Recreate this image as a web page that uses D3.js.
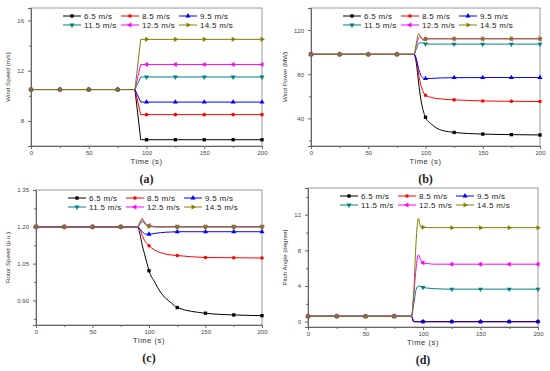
<!DOCTYPE html>
<html>
<head>
<meta charset="utf-8">
<script src="https://cdn.jsdelivr.net/npm/d3@7/dist/d3.min.js"></script>
<style>
    body { margin: 0; background: #fff; }
    svg { display: block; font-family: 'Liberation Sans', Arial, sans-serif; }
</style>
</head>
<body>
<svg id="chart" width="550" height="371"></svg>
<script>
// Series names shared by the four panels
var seriesNames = ['6.5 m/s', '8.5 m/s', '9.5 m/s', '11.5 m/s', '12.5 m/s', '14.5 m/s'];

// Time samples of panel (a) (step input)
var timeStep = [0, 25, 50, 75, 90, 95, 100, 125, 150, 175, 200];
// Time samples of panels (b), (c) and (d)
var timeResp = [0, 25, 50, 75, 90, 92, 94, 96, 98, 100, 105, 110, 115, 120, 125, 150, 175, 200];
// Times where a marker is drawn
var markerTimes = [0, 25, 50, 75, 100, 125, 150, 175, 200];

// (a) Wind speed (m/s)
var windSpeed = [
    [10.5, 10.5, 10.5, 10.5, 10.5, 6.5, 6.5, 6.5, 6.5, 6.5, 6.5],
    [10.5, 10.5, 10.5, 10.5, 10.5, 8.5, 8.5, 8.5, 8.5, 8.5, 8.5],
    [10.5, 10.5, 10.5, 10.5, 10.5, 9.5, 9.5, 9.5, 9.5, 9.5, 9.5],
    [10.5, 10.5, 10.5, 10.5, 10.5, 11.5, 11.5, 11.5, 11.5, 11.5, 11.5],
    [10.5, 10.5, 10.5, 10.5, 10.5, 12.5, 12.5, 12.5, 12.5, 12.5, 12.5],
    [10.5, 10.5, 10.5, 10.5, 10.5, 14.5, 14.5, 14.5, 14.5, 14.5, 14.5]
];

// (b) Wind power (MW)
var windPower = [
    [98, 98, 98, 98, 98, 90, 72, 57, 47, 41, 35, 31, 29, 28, 27.3, 25.8, 25.3, 25],
    [98, 98, 98, 98, 98, 93, 80, 70, 64, 61, 59, 58, 57.5, 57, 56.8, 55.8, 55.5, 55.3],
    [98, 98, 98, 98, 98, 94, 85, 79, 76.5, 76, 76.2, 76.5, 76.7, 76.8, 76.9, 77, 77, 77],
    [98, 98, 98, 98, 98, 103, 108, 108.5, 108, 107.5, 107.3, 107.3, 107.3, 107.3, 107.3, 107.3, 107.3, 107.3],
    [98, 98, 98, 98, 98, 106, 113, 114, 111, 112, 112, 112, 112, 112, 112, 112, 112, 112],
    [98, 98, 98, 98, 98, 108, 117, 113, 111, 112, 112.3, 112.3, 112.3, 112.3, 112.3, 112.3, 112.3, 112.3]
];

// (c) Rotor speed (p.u.)
var rotorSpeed = [
    [1.2, 1.2, 1.2, 1.2, 1.2, 1.17, 1.125, 1.09, 1.055, 1.021, 0.975, 0.935, 0.908, 0.889, 0.871, 0.848, 0.841, 0.838],
    [1.2, 1.2, 1.2, 1.2, 1.2, 1.19, 1.165, 1.145, 1.132, 1.123, 1.105, 1.095, 1.089, 1.085, 1.083, 1.075, 1.074, 1.073],
    [1.2, 1.2, 1.2, 1.2, 1.2, 1.19, 1.18, 1.172, 1.17, 1.17, 1.173, 1.176, 1.178, 1.179, 1.18, 1.18, 1.18, 1.18],
    [1.2, 1.2, 1.2, 1.2, 1.2, 1.21, 1.22, 1.215, 1.205, 1.203, 1.2, 1.2, 1.2, 1.2, 1.2, 1.2, 1.2, 1.2],
    [1.2, 1.2, 1.2, 1.2, 1.2, 1.215, 1.228, 1.22, 1.205, 1.205, 1.201, 1.2, 1.2, 1.2, 1.2, 1.2, 1.2, 1.2],
    [1.2, 1.2, 1.2, 1.2, 1.2, 1.22, 1.235, 1.215, 1.205, 1.203, 1.2, 1.2, 1.2, 1.2, 1.2, 1.2, 1.2, 1.2]
];

// (d) Pitch angle (degree)
var pitchAngle = [
    [0.6, 0.6, 0.6, 0.6, 0.6, 0, 0, 0, 0, 0, 0, 0, 0, 0, 0, 0, 0, 0],
    [0.6, 0.6, 0.6, 0.6, 0.6, 0, 0, 0, 0, 0, 0, 0, 0, 0, 0, 0, 0, 0],
    [0.6, 0.6, 0.6, 0.6, 0.6, 0, 0, 0, 0, 0, 0, 0, 0, 0, 0, 0, 0, 0],
    [0.6, 0.6, 0.6, 0.6, 0.6, 2.0, 3.6, 4.0, 3.95, 3.85, 3.75, 3.7, 3.67, 3.65, 3.65, 3.65, 3.65, 3.65],
    [0.6, 0.6, 0.6, 0.6, 0.6, 3.0, 6.0, 7.5, 6.9, 6.6, 6.5, 6.45, 6.45, 6.45, 6.45, 6.45, 6.45, 6.45],
    [0.6, 0.6, 0.6, 0.6, 0.6, 3.5, 9.0, 11.6, 10.6, 10.6, 10.55, 10.55, 10.55, 10.55, 10.55, 10.55, 10.55, 10.55]
];

// Tick values of the x axis
var xMajorTicks = [0, 50, 100, 150, 200];
var xMinorTicks = [25, 75, 125, 175];

// Colors and marker shapes of the series
var colors = ['#000000', '#ff0000', '#0000ff', '#008080', '#ff00ff', '#808000'];
var shapes = [
    { type: d3.symbolSquare, rotate: 0 },
    { type: d3.symbolCircle, rotate: 0 },
    { type: d3.symbolTriangle, rotate: 0 },
    { type: d3.symbolTriangle, rotate: 180 },
    { type: d3.symbolTriangle, rotate: 270 },
    { type: d3.symbolTriangle, rotate: 90 }
];

var svg = d3.select('#chart');

/* Returns the marker symbol generator of a series
*/
function markerPath(s) {
    var size = shapes[s].type === d3.symbolCircle ? 10 : 11;
    return d3.symbol().type(shapes[s].type).size(size)();
}

/* Draws one panel of the figure
   Parameters:
        box: { left, right, top, bottom } pixel extent of the plot area
        times: the x values of the series
        values: array of series values
        yDomain: domain of the y axis
        yMajor / yMinor: tick values of the y axis
        yFormat: format of the y tick labels
        yTitle: title of the y axis
        caption: the (a)..(d) caption
        curve: the d3 curve used for the lines
*/
function drawPanel(p) {
    var g = svg.append('g');

    var xScale = d3.scaleLinear().domain([0, 200]).range([p.box.left, p.box.right]);
    var yScale = d3.scaleLinear().domain(p.yDomain).range([p.box.bottom, p.box.top]);

    // Frame of the plot area
    g.append('rect')
        .attr('x', p.box.left)
        .attr('y', p.box.top)
        .attr('width', p.box.right - p.box.left)
        .attr('height', p.box.bottom - p.box.top)
        .attr('fill', 'none')
        .attr('stroke', '#9a9a9a')
        .attr('stroke-width', 1);

    // Bottom axis, major ticks with labels
    g.append('g')
        .attr('transform', 'translate(0,' + p.box.bottom + ')')
        .call(d3.axisBottom(xScale).tickValues(xMajorTicks).tickSize(3).tickPadding(2)
            .tickFormat(d3.format('d')))
        .call(styleAxis);
    // Bottom axis, minor ticks
    g.append('g')
        .attr('transform', 'translate(0,' + p.box.bottom + ')')
        .call(d3.axisBottom(xScale).tickValues(xMinorTicks).tickSize(2).tickFormat(''))
        .call(styleAxis);

    // Left axis, major ticks with labels
    g.append('g')
        .attr('transform', 'translate(' + p.box.left + ',0)')
        .call(d3.axisLeft(yScale).tickValues(p.yMajor).tickSize(3).tickPadding(4)
            .tickFormat(d3.format(p.yFormat)))
        .call(styleAxis);
    // Left axis, minor ticks
    g.append('g')
        .attr('transform', 'translate(' + p.box.left + ',0)')
        .call(d3.axisLeft(yScale).tickValues(p.yMinor).tickSize(2).tickFormat(''))
        .call(styleAxis);

    // Axis titles
    g.append('text')
        .attr('x', (p.box.left + p.box.right) / 2)
        .attr('y', p.box.bottom + 18)
        .attr('text-anchor', 'middle')
        .attr('font-size', '7.5px')
        .attr('letter-spacing', '0.6px')
        .attr('fill', '#333')
        .text('Time (s)');

    g.append('text')
        .attr('transform', 'translate(' + p.yTitleX + ',' + ((p.box.top + p.box.bottom) / 2) + ') rotate(-90)')
        .attr('text-anchor', 'middle')
        .attr('font-size', '6.2px')
        .attr('fill', '#333')
        .text(p.yTitle);

    // Caption below the panel
    g.append('text')
        .attr('x', (p.box.left + p.box.right) / 2)
        .attr('y', p.box.bottom + 37)
        .attr('text-anchor', 'middle')
        .attr('font-family', "'Liberation Serif', 'Times New Roman', serif")
        .attr('font-weight', 'bold')
        .attr('font-size', '12px')
        .attr('fill', '#222')
        .text(p.caption);

    var line = d3.line()
        .x(function(d) { return xScale(d[0]); })
        .y(function(d) { return yScale(d[1]); })
        .curve(p.curve);

    // Draw the lines and markers of each series
    p.values.forEach(function(vals, s) {
        var pts = p.times.map(function(t, i) { return [t, vals[i]]; });
        g.append('path')
            .datum(pts)
            .attr('d', line)
            .attr('fill', 'none')
            .attr('stroke', colors[s])
            .attr('stroke-width', 1);

        var marks = pts.filter(function(d) { return markerTimes.indexOf(d[0]) >= 0; });
        g.selectAll('path.m' + s)
            .data(marks)
            .enter()
            .append('path')
            .classed('m' + s, true)
            .attr('d', markerPath(s))
            .attr('transform', function(d) {
                return 'translate(' + xScale(d[0]) + ',' + yScale(d[1]) + ') rotate(' + shapes[s].rotate + ')';
            })
            .attr('fill', colors[s]);
    });

    // Legend in two rows of three
    seriesNames.forEach(function(name, s) {
        var lx = p.box.left + 32 + (s % 3) * 58,
            ly = p.box.top + 8 + Math.floor(s / 3) * 9;
        g.append('line')
            .attr('x1', lx).attr('x2', lx + 18)
            .attr('y1', ly).attr('y2', ly)
            .attr('stroke', colors[s])
            .attr('stroke-width', 1);
        g.append('path')
            .attr('d', markerPath(s))
            .attr('transform', 'translate(' + (lx + 9) + ',' + ly + ') rotate(' + shapes[s].rotate + ')')
            .attr('fill', colors[s]);
        g.append('text')
            .attr('x', lx + 21)
            .attr('y', ly + 3)
            .attr('font-size', '8px')
            .attr('letter-spacing', '0.3px')
            .attr('fill', '#222')
            .text(name);
    });
}

/* Sets the gray style of an axis
*/
function styleAxis(sel) {
    sel.select('.domain').attr('stroke', '#666');
    sel.selectAll('.tick line').attr('stroke', '#666');
    sel.selectAll('.tick text')
        .attr('font-size', '6px')
        .attr('fill', '#444')
        .attr('font-family', "'Liberation Sans', Arial, sans-serif");
}

drawPanel({
    box: { left: 31, right: 262, top: 8, bottom: 146 },
    times: timeStep, values: windSpeed, curve: d3.curveLinear,
    yDomain: [6, 17], yMajor: [8, 12, 16], yMinor: [6, 10, 14], yFormat: 'd',
    yTitle: 'Wind Speed (m/s)', yTitleX: 10, caption: '(a)'
});

drawPanel({
    box: { left: 311, right: 540, top: 8, bottom: 146 },
    times: timeResp, values: windPower, curve: d3.curveMonotoneX,
    yDomain: [15, 140], yMajor: [40, 80, 120], yMinor: [20, 60, 100, 140], yFormat: 'd',
    yTitle: 'Wind Power (MW)', yTitleX: 287, caption: '(b)'
});

drawPanel({
    box: { left: 36, right: 262, top: 190, bottom: 325 },
    times: timeResp, values: rotorSpeed, curve: d3.curveMonotoneX,
    yDomain: [0.8, 1.35], yMajor: [0.90, 1.05, 1.20, 1.35], yMinor: [0.825, 0.975, 1.125, 1.275], yFormat: '.2f',
    yTitle: 'Rotor Speed (p.u.)', yTitleX: 10, caption: '(c)'
});

drawPanel({
    box: { left: 308, right: 538, top: 188, bottom: 327 },
    times: timeResp, values: pitchAngle, curve: d3.curveMonotoneX,
    yDomain: [-0.6, 15], yMajor: [0, 4, 8, 12], yMinor: [2, 6, 10, 14], yFormat: 'd',
    yTitle: 'Pitch Angle (degree)', yTitleX: 287, caption: '(d)'
});
</script>
</body>
</html>
